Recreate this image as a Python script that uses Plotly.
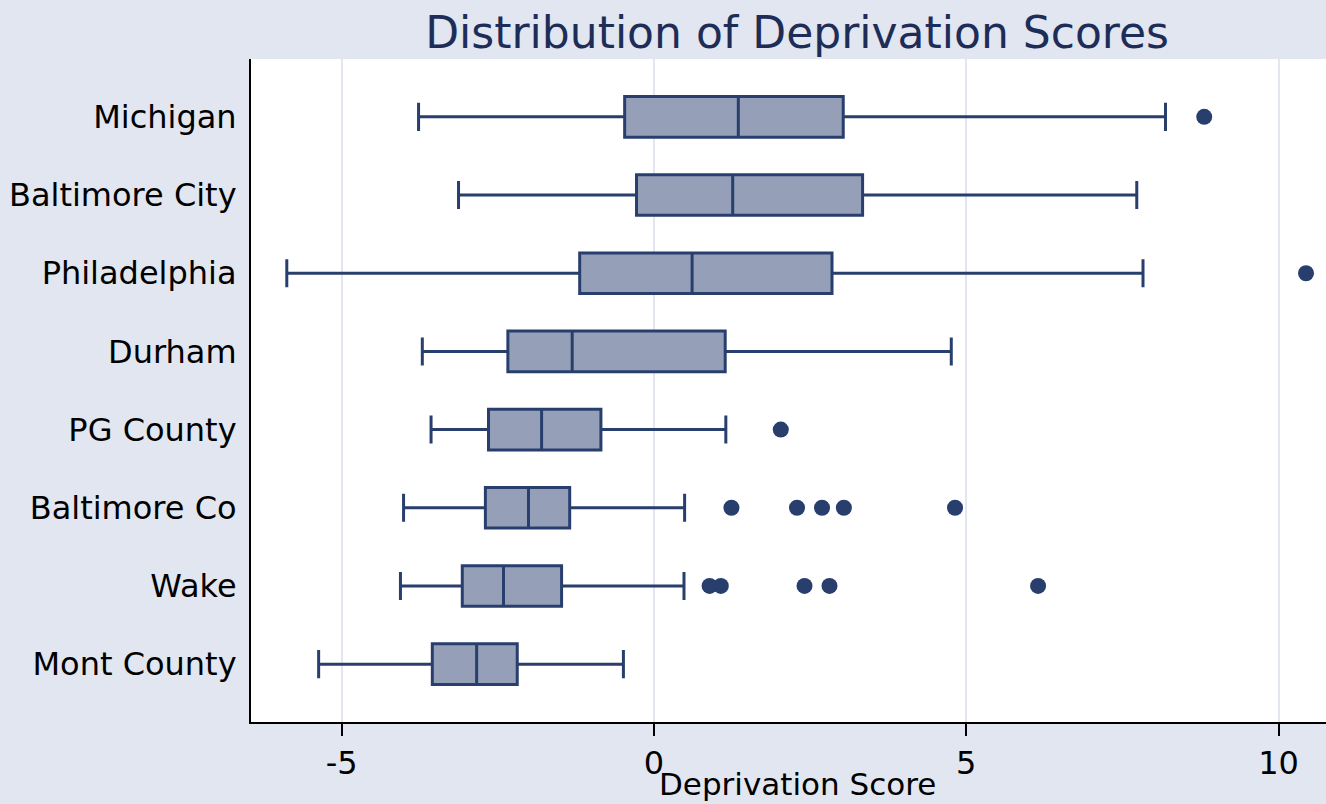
import plotly.graph_objects as go

categories = ["Michigan", "Baltimore City", "Philadelphia", "Durham",
              "PG County", "Baltimore Co", "Wake", "Mont County"]
lower_whisker = [-3.77, -3.13, -5.88, -3.71, -3.57, -4.01, -4.06, -5.37]
q1_values = [-0.47, -0.28, -1.19, -2.34, -2.65, -2.70, -3.07, -3.55]
median_values = [1.35, 1.26, 0.61, -1.31, -1.80, -2.01, -2.41, -2.84]
q3_values = [3.03, 3.34, 2.85, 1.14, -0.85, -1.35, -1.48, -2.19]
upper_whisker = [8.19, 7.73, 7.83, 4.76, 1.15, 0.49, 0.48, -0.49]

outlier_group = ["Michigan", "Philadelphia", "PG County",
                 "Baltimore Co", "Baltimore Co", "Baltimore Co", "Baltimore Co", "Baltimore Co",
                 "Wake", "Wake", "Wake", "Wake", "Wake"]
outlier_values = [8.81, 10.44, 2.03,
                  1.24, 2.29, 2.69, 3.04, 4.82,
                  0.89, 1.07, 2.41, 2.81, 6.15]

x_ticks = [-5, 0, 5, 10]
x_tick_labels = ["-5", "0", "5", "10"]

line_col = "#283F6E"
fill_col = "#95A0B8"
bg_col = "#E1E6F0"
font_family = "DejaVu Sans"

fig = go.Figure()
fig.add_trace(go.Box(
    y=categories, orientation="h",
    q1=q1_values, median=median_values, q3=q3_values,
    lowerfence=lower_whisker, upperfence=upper_whisker,
    boxpoints=False, width=0.52, whiskerwidth=0.69,
    fillcolor=fill_col, line=dict(color=line_col, width=3),
    showlegend=False, hoverinfo="skip",
))
fig.add_trace(go.Scatter(
    x=outlier_values, y=outlier_group, mode="markers",
    marker=dict(color=line_col, size=16, symbol="circle"),
    showlegend=False, hoverinfo="skip",
))

fig.update_layout(
    width=1326, height=804,
    margin=dict(l=251, r=0, t=59, b=82),
    paper_bgcolor=bg_col, plot_bgcolor="white",
    font=dict(family=font_family, color="black", size=32),
    title=dict(text="Distribution of Deprivation Scores",
               font=dict(family=font_family, size=44, color="#1E2D57"),
               xref="paper", x=0.508, xanchor="center",
               yref="container", y=0.96, yanchor="middle"),
    xaxis=dict(range=[-6.453, 10.76], tickvals=x_ticks, ticktext=x_tick_labels,
               showgrid=True, gridcolor="#E1E6F0", gridwidth=2,
               zeroline=False, showline=True, linecolor="black", linewidth=2,
               ticks="outside", ticklen=12, tickwidth=2, tickcolor="black",
               tickfont=dict(size=32, color="black")),
    yaxis=dict(type="category", categoryorder="array", categoryarray=categories,
               range=[7.74, -0.74], showgrid=False, zeroline=False,
               showline=True, linecolor="black", linewidth=2,
               ticks="", ticklabelstandoff=6,
               tickfont=dict(size=32, color="black")),
    annotations=[dict(text="Deprivation Score", xref="paper", yref="paper",
                      x=0.508, y=-0.094, xanchor="center", yanchor="middle",
                      showarrow=False, font=dict(size=31, color="black"))],
)

fig.write_html("out.html", config={"displayModeBar": False},
               post_script="document.body.style.margin='0px';document.body.style.overflow='hidden';")
